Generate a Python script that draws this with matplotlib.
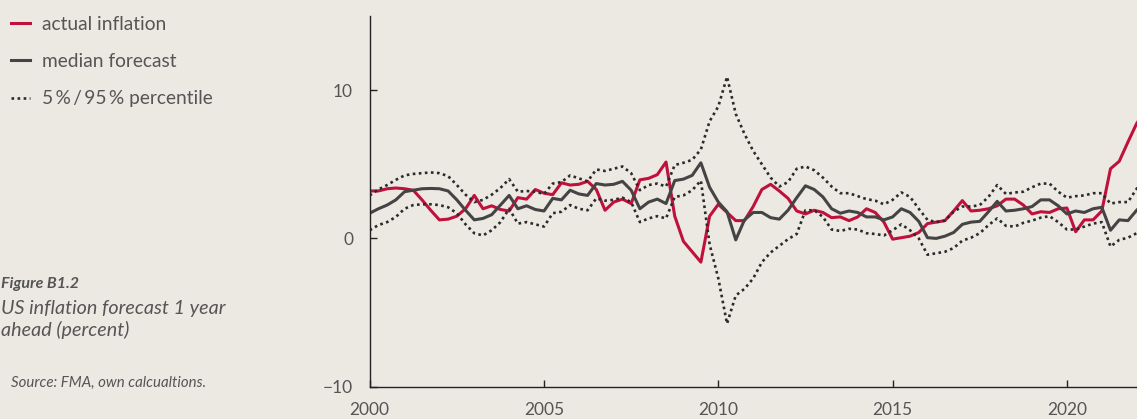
import numpy as np
import matplotlib
matplotlib.use('Agg')
import matplotlib.pyplot as plt

# quarterly observations, 2000Q1 .. 2022Q2
quarters = np.arange(2000, 2022.5, 0.25)

actual = [3.2, 3.2, 3.35, 3.4,
          3.35, 3.25, 2.6, 1.9,
          1.25, 1.3, 1.5, 2.0,
          2.9, 2.0, 2.2, 1.95,
          1.85, 2.75, 2.65, 3.3,
          3.05, 2.95, 3.75, 3.6,
          3.65, 3.85, 3.3, 1.9,
          2.45, 2.65, 2.35, 3.95,
          4.05, 4.3, 5.15, 1.5,
          -0.2, -0.9, -1.6, 1.5,
          2.3, 1.75, 1.2, 1.2,
          2.15, 3.3, 3.65, 3.2,
          2.7, 1.85, 1.65, 1.9,
          1.75, 1.4, 1.45, 1.2,
          1.45, 2.0, 1.75, 1.1,
          -0.05, 0.05, 0.15, 0.4,
          1.0, 1.1, 1.2, 1.85,
          2.55, 1.85, 1.9, 2.0,
          2.2, 2.65, 2.65, 2.25,
          1.65, 1.8, 1.75, 2.0,
          2.05, 0.45, 1.25, 1.25,
          1.85, 4.7, 5.2, 6.5,
          7.75, 8.6]

median = [1.7, 2.0, 2.25, 2.6,
          3.15, 3.25, 3.35, 3.37,
          3.35, 3.2, 2.6, 1.9,
          1.25, 1.35, 1.6, 2.25,
          2.9, 2.0, 2.2, 1.95,
          1.85, 2.7, 2.6, 3.25,
          3.0, 2.9, 3.7, 3.6,
          3.65, 3.85, 3.25, 2.0,
          2.45, 2.65, 2.35, 3.9,
          4.0, 4.25, 5.1, 3.45,
          2.45, 1.8, -0.1, 1.25,
          1.75, 1.75, 1.4, 1.3,
          1.9, 2.75, 3.55, 3.3,
          2.8, 2.0, 1.7, 1.85,
          1.75, 1.45, 1.45, 1.25,
          1.45, 2.0, 1.75, 1.15,
          0.05, 0.0, 0.15, 0.4,
          0.95, 1.1, 1.15, 1.8,
          2.5, 1.85, 1.9, 2.0,
          2.15, 2.6, 2.6, 2.2,
          1.65, 1.85, 1.75, 2.0,
          2.1, 0.55, 1.25, 1.2,
          1.9, 2.5]

p95 = [2.9, 3.3, 3.6, 3.95,
       4.25, 4.35, 4.4, 4.45,
       4.4, 4.2, 3.6, 2.95,
       2.45, 2.6, 2.95, 3.4,
       4.0, 3.15, 3.2, 3.15,
       3.0, 3.7, 3.8, 4.25,
       4.05, 3.85, 4.65, 4.55,
       4.7, 4.85, 4.4, 3.25,
       3.6, 3.7, 3.5, 4.95,
       5.1, 5.3, 6.0, 7.9,
       8.9, 10.9, 8.4, 7.05,
       5.9, 5.0, 4.1, 3.5,
       3.8, 4.7, 4.85, 4.6,
       4.1, 3.5, 3.05, 3.05,
       2.85, 2.65, 2.55, 2.3,
       2.6, 3.1, 2.8, 2.0,
       1.25, 1.1, 1.2, 1.8,
       2.15, 2.15, 2.25, 2.8,
       3.6, 3.0, 3.1, 3.15,
       3.45, 3.7, 3.7, 3.15,
       2.75, 2.85, 2.9, 3.05,
       3.05, 2.35, 2.45, 2.45,
       3.35, 4.0]

p05 = [0.55, 0.9, 1.1, 1.45,
       2.0, 2.25, 2.3, 2.3,
       2.25, 2.1, 1.7, 0.95,
       0.35, 0.2, 0.55, 1.1,
       2.0, 1.0, 1.1, 0.95,
       0.8, 1.7, 1.8, 2.25,
       2.0, 1.9, 2.7, 2.55,
       2.6, 2.75, 2.45, 1.1,
       1.35, 1.5, 1.35, 2.8,
       2.9, 3.25, 3.9, -0.4,
       -2.7, -5.75, -3.85, -3.4,
       -2.7, -1.6, -0.95, -0.5,
       -0.05, 0.3, 1.9, 1.9,
       1.45, 0.6, 0.5, 0.65,
       0.6, 0.35, 0.3, 0.2,
       0.55, 0.95, 0.55, 0.0,
       -1.1, -1.0, -0.9, -0.65,
       -0.15, 0.05, 0.35, 0.9,
       1.35, 0.85, 0.8, 1.05,
       1.2, 1.4, 1.5, 1.1,
       0.6, 0.6, 0.8, 1.0,
       1.1, -0.55, -0.1, 0.05,
       0.35, 0.9]

xticks = [2000, 2005, 2010, 2015, 2020]
yticks = [-10, 0, 10]

bg = '#ECE9E3'
red = '#C0103C'
dark = '#444444'
txt = '#555555'

plt.rcParams['font.family'] = ['Lato', 'DejaVu Sans']

W, H = 1137, 419
fig = plt.figure(figsize=(W / 100, H / 100), dpi=100, facecolor=bg)
ax = fig.add_axes([369.7 / W, 1 - 386.7 / H, (W - 369.7) / W, (386.7 - 16) / H])
ax.set_facecolor(bg)

dots = (0, (1, 1.3))
thin = '\u2009'
l1, = ax.plot(quarters, actual, color=red, lw=2.2, label='actual inflation')
l2, = ax.plot(quarters, median, color=dark, lw=2.2, label='median forecast')
l3, = ax.plot(quarters, p95, color='#2a2a2a', lw=1.9, ls=dots,
              label=f'5{thin}%{thin}/{thin}95{thin}% percentile')
ax.plot(quarters, p05, color='#2a2a2a', lw=1.9, ls=dots)

ax.set_xlim(2000, 2022.01)
ax.set_ylim(-10, 15)
ax.set_xticks(xticks)
ax.set_yticks(yticks)
ax.set_yticklabels(['\u221210', '0', '10'])
for s in ['top', 'right']:
    ax.spines[s].set_visible(False)
for s in ['left', 'bottom']:
    ax.spines[s].set_color('#222222')
    ax.spines[s].set_linewidth(1.0)
ax.tick_params(axis='both', direction='in', length=5, width=1, color='#222222',
               labelcolor=txt, labelsize=12.5)
ax.tick_params(axis='x', pad=11)
ax.tick_params(axis='y', pad=12)

fig.legend(handles=[l1, l2, l3], loc='upper left', bbox_to_anchor=(11 / W, 1 - 16 / H),
           frameon=False, fontsize=13.8, labelcolor=txt, handlelength=1.0,
           handletextpad=0.63, labelspacing=1.05, borderpad=0, borderaxespad=0)

fig.text(1 / W, 1 - 284 / H, 'Figure B1.2', fontsize=11.5, fontweight='bold',
         fontstyle='italic', color=txt, va='center')
fig.text(1 / W, 1 - 308 / H, 'US inflation forecast 1 year', fontsize=14.2,
         fontstyle='italic', color=txt, va='center')
fig.text(1 / W, 1 - 330 / H, 'ahead (percent)', fontsize=14.2,
         fontstyle='italic', color=txt, va='center')
fig.text(11 / W, 1 - 383 / H, 'Source: FMA, own calcualtions.', fontsize=10.8,
         fontstyle='italic', color=txt, va='center')

fig.savefig('out.png', dpi=100, facecolor=bg)
